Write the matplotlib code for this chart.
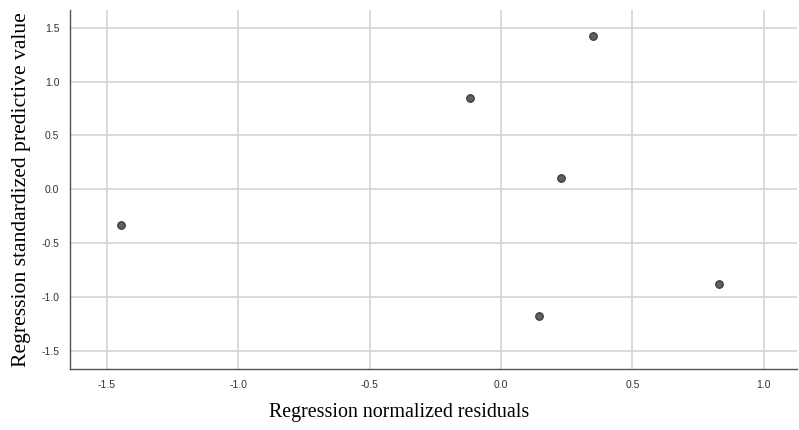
import matplotlib
matplotlib.use('Agg')
import matplotlib.pyplot as plt

# residuals vs predicted
residuals = [-1.446, -0.118, 0.350, 0.227, 0.145, 0.830]
predicted = [-0.332, 0.849, 1.425, 0.102, -1.178, -0.880]

x_ticks = [-1.5, -1.0, -0.5, 0.0, 0.5, 1.0]
y_ticks = [-1.5, -1.0, -0.5, 0.0, 0.5, 1.0, 1.5]

fig = plt.figure(figsize=(7.99, 4.30), dpi=100)
ax = fig.add_axes([0.0882, 0.1419, 0.9093, 0.8348])

ax.scatter(residuals, predicted, s=30, color='#5f5f5f', edgecolors='#333333',
           linewidths=0.8, zorder=3)

ax.set_xlim(-1.638, 1.126)
ax.set_ylim(-1.670, 1.666)
ax.set_xticks(x_ticks)
ax.set_yticks(y_ticks)
ax.set_xticklabels([f'{v:.1f}' for v in x_ticks])
ax.set_yticklabels([f'{v:.1f}' for v in y_ticks])
ax.tick_params(length=0, labelsize=7.5, colors='#333333', pad=8)
for lbl in ax.get_xticklabels() + ax.get_yticklabels():
    lbl.set_family('Liberation Sans')

ax.grid(True, color='#d4d4d4', linewidth=1.2)
ax.set_axisbelow(True)
for side in ['top', 'right']:
    ax.spines[side].set_visible(False)
for side in ['left', 'bottom']:
    ax.spines[side].set_color('#555555')
    ax.spines[side].set_linewidth(1.0)

fig.text(0.499, 0.040, 'Regression normalized residuals', family='Liberation Serif',
         fontsize=14.4, ha='center', va='center')
fig.text(0.0275, 0.560, 'Regression standardized predictive value', family='Liberation Serif',
         fontsize=15.6, rotation=90, ha='center', va='center')

fig.savefig('out.png', dpi=100)
